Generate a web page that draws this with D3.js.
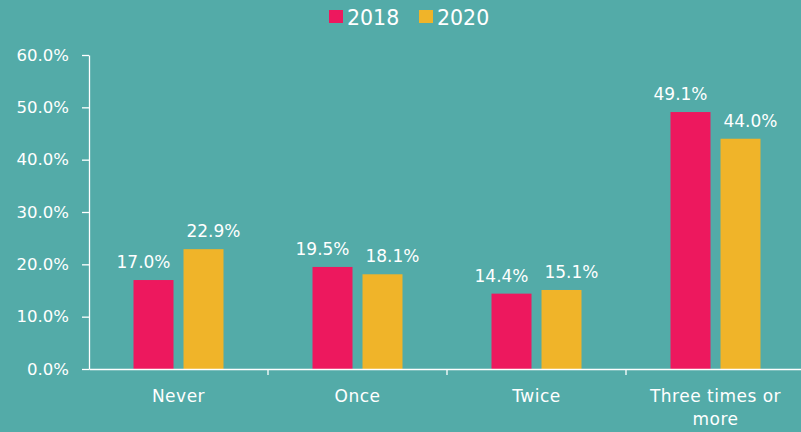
<!DOCTYPE html>
<html>
<head>
<meta charset="utf-8">
<script src="https://cdn.jsdelivr.net/npm/d3@7"></script>
<style>
  body { margin: 0; background: #53aba8; }
  svg { display: block; font-family: "DejaVu Sans", "Noto Sans", sans-serif; }
</style>
</head>
<body>
<div id="chart"></div>
<script>
var categories = ["Never", "Once", "Twice", "Three times or more"];
var series = ["2018", "2020"];
var values2018 = [17.0, 19.5, 14.4, 49.1];
var values2020 = [22.9, 18.1, 15.1, 44.0];
var yTicks = [0, 10, 20, 30, 40, 50, 60];

var colors = {"2018": "#ed185e", "2020": "#f0b429"};
var fontFamily = '"DejaVu Sans", "Noto Sans", sans-serif';

var width = 801, height = 432,
    margin = {top: 55, right: 0, bottom: 63, left: 89};

var svg = d3.select("#chart").append("svg")
    .attr("width", width)
    .attr("height", height);

svg.append("rect").attr("width", width).attr("height", height).attr("fill", "#53aba8");

var x = d3.scaleBand()
    .domain(categories)
    .range([margin.left, 805]);

var y = d3.scaleLinear()
    .domain([0, 60])
    .range([height - margin.bottom, margin.top]);

var barW = 40, gap = 10;
var xs = d3.scaleOrdinal().domain(series).range([0, barW + gap]);
// value labels sit pushed outward from the bar centres
var labelShift = {"2018": -10, "2020": 10};

var data = categories.map(function (c, i) {
    return {cat: c, vals: [{s: "2018", v: values2018[i]}, {s: "2020", v: values2020[i]}]};
});

// y axis
var yAxis = svg.append("g")
    .attr("transform", "translate(" + margin.left + ",0)")
    .call(d3.axisLeft(y).tickValues(yTicks).tickSize(7).tickSizeOuter(0)
        .tickFormat(function (d) { return d.toFixed(1) + "%"; }))
    .attr("font-family", fontFamily);
yAxis.select(".domain").attr("stroke", "#fff").attr("stroke-width", 1.3);
yAxis.selectAll(".tick line").attr("stroke", "#fff").attr("stroke-width", 1.3);
yAxis.selectAll(".tick text").attr("fill", "#fff").attr("font-size", 16.5).attr("x", -20);

// bars
var groups = svg.selectAll(".grp").data(data).enter().append("g")
    .attr("class", "grp")
    .attr("transform", function (d) {
        return "translate(" + (x(d.cat) + (x.bandwidth() - (2 * barW + gap)) / 2) + ",0)";
    });

groups.selectAll("rect").data(function (d) { return d.vals; }).enter().append("rect")
    .attr("x", function (d) { return xs(d.s); })
    .attr("y", function (d) { return y(d.v); })
    .attr("width", barW)
    .attr("height", function (d) { return y(0) - y(d.v); })
    .attr("fill", function (d) { return colors[d.s]; });

groups.selectAll("text").data(function (d) { return d.vals; }).enter().append("text")
    .attr("x", function (d) { return xs(d.s) + barW / 2 + labelShift[d.s]; })
    .attr("y", function (d) { return y(d.v) - 12; })
    .attr("text-anchor", "middle")
    .attr("fill", "#fff")
    .attr("font-size", 17)
    .text(function (d) { return d.v.toFixed(1) + "%"; });

// x axis
var xAxis = svg.append("g")
    .attr("transform", "translate(0," + y(0) + ")")
    .call(d3.axisBottom(x).tickSize(0).tickSizeOuter(0))
    .attr("font-family", fontFamily);
xAxis.select(".domain").attr("stroke", "#fff").attr("stroke-width", 1.5);
xAxis.selectAll(".tick text").remove();

// separators between categories
var seps = categories.slice(1).map(function (c) { return x(c); });
xAxis.selectAll(".sep").data(seps).enter().append("line")
    .attr("x1", function (d) { return d; }).attr("x2", function (d) { return d; })
    .attr("y1", 0).attr("y2", 6)
    .attr("stroke", "#fff").attr("stroke-width", 1.3);

var labelLines = {"Three times or more": ["Three times or", "more"]};
xAxis.selectAll(".lbl").data(categories).enter().append("text")
    .attr("text-anchor", "middle")
    .attr("fill", "#fff")
    .attr("font-size", 17)
    .attr("letter-spacing", 0.5)
    .attr("transform", function (d) { return "translate(" + (x(d) + x.bandwidth() / 2) + ",33)"; })
    .each(function (d) {
        var lines = labelLines[d] || [d];
        var t = d3.select(this);
        lines.forEach(function (l, i) {
            t.append("tspan").attr("x", 0).attr("dy", i === 0 ? 0 : 23).text(l);
        });
    });

// legend
var legend = svg.append("g").attr("transform", "translate(329,8)");
var lg = legend.selectAll("g").data(series).enter().append("g")
    .attr("transform", function (d, i) { return "translate(" + (i * 90) + ",0)"; });
lg.append("rect").attr("y", 2).attr("width", 14).attr("height", 13)
    .attr("fill", function (d) { return colors[d]; });
lg.append("text").attr("x", 18).attr("y", 17).attr("fill", "#fff").attr("font-size", 20.5)
    .text(function (d) { return d; });
</script>
</body>
</html>
